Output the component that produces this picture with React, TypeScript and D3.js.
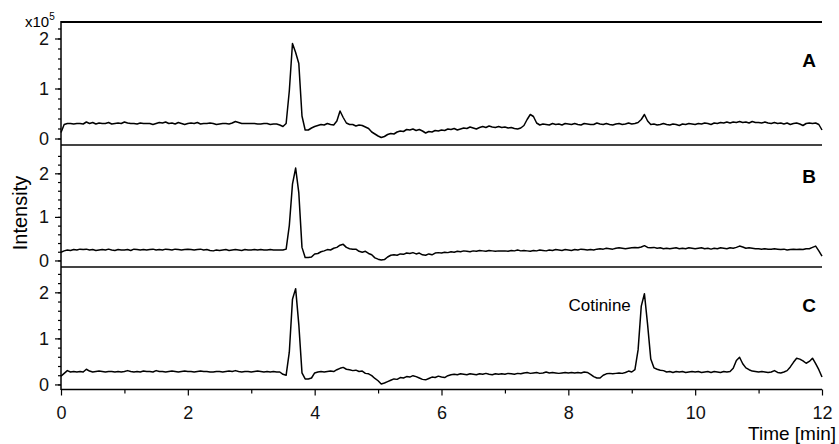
import React, { useEffect, useRef } from 'react';
import * as d3 from 'd3';

// retention time grid, one sample every 0.05 min
const times = d3.range(241).map(i => +(i * 0.05).toFixed(2));

// intensities in units of 10^5, one row per minute
const traceA = [
  0.12, 0.28, 0.30, 0.30, 0.29, 0.30, 0.30, 0.29, 0.33, 0.30, 0.32, 0.29, 0.31, 0.30, 0.30, 0.32, 0.29, 0.30, 0.31, 0.30,
  0.33, 0.31, 0.30, 0.30, 0.29, 0.31, 0.30, 0.30, 0.30, 0.28, 0.30, 0.32, 0.31, 0.33, 0.30, 0.31, 0.29, 0.32, 0.30, 0.28,
  0.30, 0.31, 0.30, 0.32, 0.29, 0.30, 0.30, 0.31, 0.30, 0.28, 0.29, 0.30, 0.30, 0.29, 0.31, 0.34, 0.32, 0.30, 0.30, 0.30,
  0.30, 0.30, 0.29, 0.29, 0.30, 0.30, 0.28, 0.29, 0.29, 0.27, 0.24, 0.30, 0.95, 1.90, 1.72, 1.50, 0.45, 0.17, 0.17, 0.21,
  0.24, 0.26, 0.28, 0.27, 0.30, 0.28, 0.27, 0.35, 0.55, 0.42, 0.31, 0.28, 0.28, 0.25, 0.27, 0.26, 0.23, 0.20, 0.13, 0.09,
  0.05, 0.02, 0.04, 0.08, 0.10, 0.09, 0.13, 0.15, 0.14, 0.18, 0.17, 0.19, 0.16, 0.18, 0.15, 0.11, 0.14, 0.13, 0.16, 0.15,
  0.17, 0.16, 0.19, 0.18, 0.20, 0.17, 0.19, 0.21, 0.20, 0.23, 0.21, 0.19, 0.22, 0.24, 0.22, 0.25, 0.23, 0.22, 0.24, 0.22,
  0.23, 0.21, 0.22, 0.20, 0.19, 0.21, 0.26, 0.38, 0.48, 0.44, 0.31, 0.27, 0.29, 0.28, 0.27, 0.30, 0.28, 0.29, 0.27, 0.30,
  0.29, 0.28, 0.30, 0.28, 0.27, 0.30, 0.29, 0.28, 0.28, 0.31, 0.29, 0.28, 0.30, 0.28, 0.27, 0.29, 0.30, 0.28, 0.29, 0.31,
  0.29, 0.30, 0.32, 0.38, 0.48, 0.35, 0.28, 0.29, 0.27, 0.28, 0.30, 0.28, 0.27, 0.29, 0.28, 0.26, 0.29, 0.28, 0.30, 0.29,
  0.28, 0.30, 0.29, 0.31, 0.30, 0.28, 0.31, 0.30, 0.32, 0.31, 0.33, 0.31, 0.33, 0.32, 0.34, 0.32, 0.33, 0.31, 0.34, 0.32,
  0.32, 0.31, 0.33, 0.31, 0.30, 0.32, 0.30, 0.31, 0.29, 0.31, 0.28, 0.30, 0.31, 0.29, 0.26, 0.30, 0.31, 0.30, 0.31, 0.28,
  0.17
];

const traceB = [
  0.19, 0.22, 0.24, 0.23, 0.25, 0.24, 0.26, 0.25, 0.26, 0.24, 0.25, 0.23, 0.24, 0.25, 0.24, 0.26, 0.24, 0.23, 0.25, 0.24,
  0.24, 0.25, 0.23, 0.26, 0.25, 0.24, 0.25, 0.24, 0.25, 0.26, 0.24, 0.25, 0.24, 0.26, 0.25, 0.24, 0.26, 0.25, 0.24, 0.25,
  0.26, 0.25, 0.24, 0.25, 0.26, 0.24, 0.25, 0.23, 0.22, 0.24, 0.23, 0.24, 0.25, 0.23, 0.24, 0.25, 0.24, 0.23, 0.25, 0.24,
  0.24, 0.25, 0.24, 0.25, 0.24, 0.24, 0.25, 0.24, 0.24, 0.24, 0.24, 0.26, 0.80, 1.75, 2.12, 1.55, 0.30, 0.07, 0.07, 0.08,
  0.15, 0.16, 0.20, 0.22, 0.25, 0.24, 0.28, 0.30, 0.35, 0.37, 0.30, 0.27, 0.26, 0.26, 0.21, 0.19, 0.21, 0.16, 0.13, 0.06,
  0.03, 0.01, 0.02, 0.08, 0.12, 0.13, 0.12, 0.15, 0.14, 0.17, 0.16, 0.18, 0.15, 0.17, 0.13, 0.12, 0.15, 0.13, 0.17, 0.18,
  0.17, 0.19, 0.18, 0.20, 0.19, 0.21, 0.20, 0.22, 0.21, 0.20, 0.22, 0.21, 0.23, 0.22, 0.21, 0.23, 0.22, 0.21, 0.22, 0.22,
  0.22, 0.21, 0.23, 0.22, 0.24, 0.22, 0.23, 0.22, 0.21, 0.23, 0.22, 0.24, 0.23, 0.22, 0.24, 0.23, 0.25, 0.24, 0.23, 0.25,
  0.24, 0.23, 0.25, 0.24, 0.26, 0.25, 0.24, 0.25, 0.24, 0.26, 0.27, 0.26, 0.28, 0.27, 0.26, 0.28, 0.29, 0.28, 0.27, 0.28,
  0.29, 0.30, 0.29, 0.31, 0.34, 0.30, 0.29, 0.30, 0.28, 0.29, 0.27, 0.28, 0.27, 0.28, 0.29, 0.27, 0.28, 0.27, 0.29, 0.28,
  0.27, 0.28, 0.29, 0.27, 0.28, 0.26, 0.28, 0.27, 0.29, 0.28, 0.27, 0.29, 0.28, 0.30, 0.33, 0.31, 0.28, 0.29, 0.28, 0.27,
  0.27, 0.26, 0.27, 0.26, 0.26, 0.27, 0.26, 0.25, 0.26, 0.24, 0.25, 0.26, 0.25, 0.26, 0.25, 0.27, 0.27, 0.30, 0.33, 0.22,
  0.10
];

const traceC = [
  0.18, 0.24, 0.30, 0.27, 0.28, 0.27, 0.28, 0.27, 0.33, 0.29, 0.27, 0.28, 0.29, 0.28, 0.27, 0.28, 0.28, 0.27, 0.28, 0.27,
  0.28, 0.30, 0.28, 0.27, 0.28, 0.27, 0.29, 0.28, 0.28, 0.27, 0.30, 0.28, 0.28, 0.27, 0.28, 0.29, 0.28, 0.27, 0.28, 0.29,
  0.28, 0.28, 0.27, 0.28, 0.29, 0.28, 0.28, 0.27, 0.27, 0.28, 0.28, 0.27, 0.28, 0.29, 0.28, 0.30, 0.28, 0.27, 0.28, 0.28,
  0.27, 0.28, 0.29, 0.28, 0.27, 0.28, 0.27, 0.28, 0.27, 0.27, 0.22, 0.20, 0.70, 1.85, 2.08, 1.30, 0.25, 0.12, 0.12, 0.14,
  0.25, 0.27, 0.28, 0.27, 0.28, 0.29, 0.28, 0.32, 0.35, 0.37, 0.33, 0.32, 0.30, 0.31, 0.28, 0.29, 0.24, 0.23, 0.19, 0.13,
  0.08, 0.01, 0.03, 0.06, 0.09, 0.12, 0.11, 0.15, 0.14, 0.17, 0.16, 0.19, 0.17, 0.14, 0.11, 0.10, 0.13, 0.16, 0.15, 0.18,
  0.16, 0.15, 0.19, 0.21, 0.22, 0.21, 0.23, 0.22, 0.21, 0.23, 0.22, 0.21, 0.23, 0.22, 0.24, 0.22, 0.21, 0.23, 0.22, 0.23,
  0.22, 0.24, 0.23, 0.22, 0.24, 0.23, 0.25, 0.26, 0.24, 0.25, 0.26, 0.24, 0.25, 0.27, 0.25, 0.26, 0.25, 0.24, 0.25, 0.26,
  0.25, 0.26, 0.25, 0.26, 0.25, 0.27, 0.26, 0.22, 0.17, 0.14, 0.14, 0.20, 0.23, 0.24, 0.23, 0.24, 0.25, 0.24, 0.26, 0.29,
  0.27, 0.32, 0.75, 1.70, 1.97, 1.30, 0.55, 0.36, 0.33, 0.31, 0.30, 0.27, 0.28, 0.26, 0.28, 0.27, 0.28, 0.26, 0.27, 0.28,
  0.27, 0.28, 0.26, 0.27, 0.28, 0.26, 0.28, 0.27, 0.26, 0.28, 0.27, 0.28, 0.35, 0.52, 0.59, 0.45, 0.36, 0.32, 0.29, 0.28,
  0.27, 0.28, 0.27, 0.26, 0.27, 0.30, 0.26, 0.25, 0.27, 0.30, 0.38, 0.48, 0.57, 0.55, 0.51, 0.46, 0.50, 0.57, 0.45, 0.32,
  0.16
];

const panelLabels = ['A', 'B', 'C'];
const majorY = [0, 1, 2];
const minorYA = [0, 0.2, 0.4, 0.6, 0.8, 1, 1.2, 1.4, 1.6, 1.8, 2, 2.2];
const minorYB = [0, 0.2, 0.4, 0.6, 0.8, 1, 1.2, 1.4, 1.6, 1.8, 2, 2.2, 2.4];
const minorYC = [0, 0.2, 0.4, 0.6, 0.8, 1, 1.2, 1.4, 1.6, 1.8, 2, 2.2, 2.4];
const majorX = [0, 2, 4, 6, 8, 10, 12];
const minorX = [1, 3, 5, 7, 9, 11];
const annotation = { text: 'Cotinine', t: 9.19 };

const FONT = '"Liberation Sans", Arial, sans-serif';

export default function App() {
  const ref = useRef(null);

  useEffect(() => {
    const svg = d3.select(ref.current);
    svg.selectAll('*').remove();

    const left = 61, right = 822;
    const x = d3.scaleLinear().domain([0, 12]).range([left, right]);

    // three stacked panels sharing the time axis
    const panels = [
      { data: traceA, minor: minorYA, y: d3.scaleLinear().domain([-0.13, 2.33]).range([145, 22]), labelY: 67 },
      { data: traceB, minor: minorYB, y: d3.scaleLinear().domain([-0.15, 2.65]).range([267, 145]), labelY: 183 },
      { data: traceC, minor: minorYC, y: d3.scaleLinear().domain([-0.11, 2.55]).range([389.5, 267]), labelY: 312 },
    ];

    panels.forEach((p, i) => {
      const g = svg.append('g');

      // minor ticks
      g.append('g')
        .attr('transform', `translate(${left},0)`)
        .call(d3.axisLeft(p.y).tickValues(p.minor).tickSize(3).tickFormat(() => ''))
        .call(a => a.select('.domain').remove())
        .selectAll('line').attr('stroke', '#000').attr('stroke-width', 1.2);

      // major ticks + labels
      g.append('g')
        .attr('transform', `translate(${left},0)`)
        .call(d3.axisLeft(p.y).tickValues(majorY).tickSize(6).tickPadding(6).tickFormat(d3.format('d')))
        .call(a => a.select('.domain').remove())
        .call(a => a.selectAll('line').attr('stroke', '#000').attr('stroke-width', 1.2))
        .selectAll('text')
        .attr('font-family', FONT).attr('font-size', 18).attr('fill', '#111');

      const line = d3.line<number>()
        .x((_, k) => x(times[k]))
        .y(d => p.y(d));

      g.append('path')
        .datum(p.data)
        .attr('d', line)
        .attr('fill', 'none')
        .attr('stroke', '#000')
        .attr('stroke-width', 1.5)
        .attr('stroke-linejoin', 'round');

      g.append('text')
        .attr('x', 816).attr('y', p.labelY)
        .attr('text-anchor', 'end')
        .attr('font-family', FONT).attr('font-size', 19).attr('font-weight', 'bold')
        .text(panelLabels[i]);

      // separator / frame line at top of each panel
      g.append('line')
        .attr('x1', left).attr('x2', right)
        .attr('y1', p.y.range()[1]).attr('y2', p.y.range()[1])
        .attr('stroke', i === 0 ? '#000' : '#444').attr('stroke-width', 2);
    });

    // left axis line
    svg.append('line')
      .attr('x1', left).attr('x2', left).attr('y1', 21).attr('y2', 390)
      .attr('stroke', '#000').attr('stroke-width', 1.5);

    // bottom time axis
    const bottom = 389.5;
    svg.append('g')
      .attr('transform', `translate(0,${bottom})`)
      .call(d3.axisBottom(x).tickValues(minorX).tickSize(4).tickFormat(() => ''))
      .call(a => a.select('.domain').remove())
      .selectAll('line').attr('stroke', '#000').attr('stroke-width', 1.2);
    svg.append('g')
      .attr('transform', `translate(0,${bottom})`)
      .call(d3.axisBottom(x).tickValues(majorX).tickSize(6).tickPadding(11).tickFormat(d3.format('d')))
      .call(a => a.select('.domain').remove())
      .call(a => a.selectAll('line').attr('stroke', '#000').attr('stroke-width', 1.2))
      .selectAll('text')
      .attr('font-family', FONT).attr('font-size', 18).attr('fill', '#111');
    svg.append('line')
      .attr('x1', left).attr('x2', right).attr('y1', bottom).attr('y2', bottom)
      .attr('stroke', '#000').attr('stroke-width', 1.5);

    // annotation on panel C
    svg.append('text')
      .attr('x', x(annotation.t) - 13).attr('y', 311)
      .attr('text-anchor', 'end')
      .attr('font-family', FONT).attr('font-size', 17)
      .text(annotation.text);

    // axis titles
    const mult = svg.append('text')
      .attr('x', 25).attr('y', 27)
      .attr('font-family', FONT).attr('font-size', 15);
    mult.append('tspan').text('x10');
    mult.append('tspan').attr('dy', -7).attr('font-size', 10).text('5');

    svg.append('text')
      .attr('transform', 'translate(27,213) rotate(-90)')
      .attr('text-anchor', 'middle')
      .attr('font-family', FONT).attr('font-size', 20)
      .text('Intensity');

    svg.append('text')
      .attr('x', 836).attr('y', 440)
      .attr('text-anchor', 'end')
      .attr('font-family', FONT).attr('font-size', 19)
      .text('Time [min]');
  }, []);

  return (
    <svg ref={ref} width={839} height={444}
      style={{ position: 'absolute', left: 0, top: 0, background: '#fff' }} />
  );
}
